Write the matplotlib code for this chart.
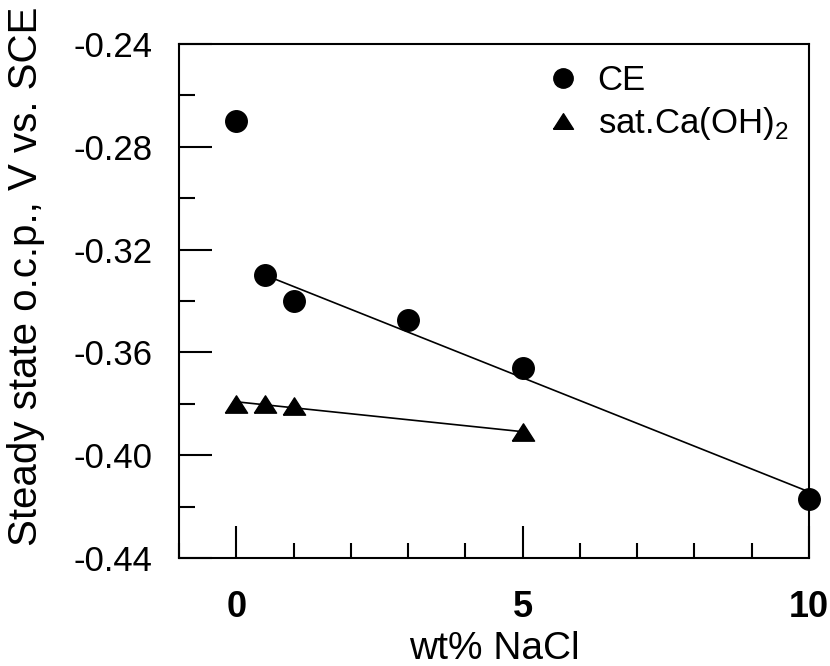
#Steady state o.c.p. vs wt% NaCl
import numpy as np
import matplotlib
matplotlib.use("Agg")
import matplotlib.pyplot as plt
from matplotlib.ticker import FixedLocator, MultipleLocator, FormatStrFormatter

plt.rcParams['font.family'] = ['Liberation Sans', 'DejaVu Sans']
plt.rcParams['mathtext.fontset'] = 'custom'
plt.rcParams['mathtext.rm'] = 'Liberation Sans'

# dados
ce_x = [0, 0.5, 1, 3, 5, 10]
ce_y = [-0.270, -0.330, -0.340, -0.3475, -0.366, -0.417]
ca_x = [0, 0.5, 1, 5]
ca_y = [-0.380, -0.380, -0.381, -0.391]
x_ticks = [0, 5, 10]
y_ticks = [-0.44, -0.40, -0.36, -0.32, -0.28, -0.24]

# triangulo mais achatado
tri = [(-1, -0.78), (1, -0.78), (0, 0.78), (-1, -0.78)]

fig = plt.figure(figsize=(8.3, 6.66), dpi=100)
ax = fig.add_axes([179/830, 1-558/666, 630/830, 514/666])

# retas de ajuste (CE sem o ponto 0)
a, b = np.polyfit(ce_x[1:], ce_y[1:], 1)
xx = np.array([ce_x[1], ce_x[-1]])
ax.plot(xx, a*xx + b, color="k", lw=1.2, zorder=1)
a2, b2 = np.polyfit(ca_x, ca_y, 1)
xx2 = np.array([ca_x[0], ca_x[-1]])
ax.plot(xx2, a2*xx2 + b2, color="k", lw=1.2, zorder=1)

ax.plot(ce_x, ce_y, "o", color="k", ms=15.5, ls="none", label="CE", clip_on=False, zorder=3)
ax.plot(ca_x, ca_y, marker=tri, color="k", ms=16, ls="none",
        label="sat.Ca(OH)$_2$", clip_on=False, zorder=3)

ax.set_xlim(-1, 10)
ax.set_ylim(-0.44, -0.24)
ax.xaxis.set_major_locator(FixedLocator(x_ticks))
ax.xaxis.set_minor_locator(MultipleLocator(1))
ax.yaxis.set_major_locator(FixedLocator(y_ticks))
ax.yaxis.set_minor_locator(MultipleLocator(0.02))
ax.yaxis.set_major_formatter(FormatStrFormatter("%.2f"))

ax.tick_params(axis="both", which="both", direction="in", width=1.5,
               top=False, right=False)
ax.tick_params(axis="x", which="major", length=23, pad=23, labelsize=26)
ax.tick_params(axis="x", which="minor", length=11)
ax.tick_params(axis="y", which="major", length=24, pad=19, labelsize=25)
ax.tick_params(axis="y", which="minor", length=11.5)
for t in ax.get_xticklabels():
    t.set_fontweight("bold")
for s in ax.spines.values():
    s.set_linewidth(1.5)

ax.set_xlabel("wt% NaCl", fontsize=28)
ax.xaxis.set_label_coords(0.5, -0.142)
ax.set_ylabel("Steady state o.c.p., V vs. SCE", fontsize=29)
ax.yaxis.set_label_coords(-0.213, 0.549)

ax.legend(loc="upper left", bbox_to_anchor=(0.582, 0.961), frameon=False,
          fontsize=25, borderpad=0, borderaxespad=0, handlelength=1,
          handletextpad=0.5, labelspacing=0.23, markerscale=0.9)

plt.savefig("out.png", dpi=100)
